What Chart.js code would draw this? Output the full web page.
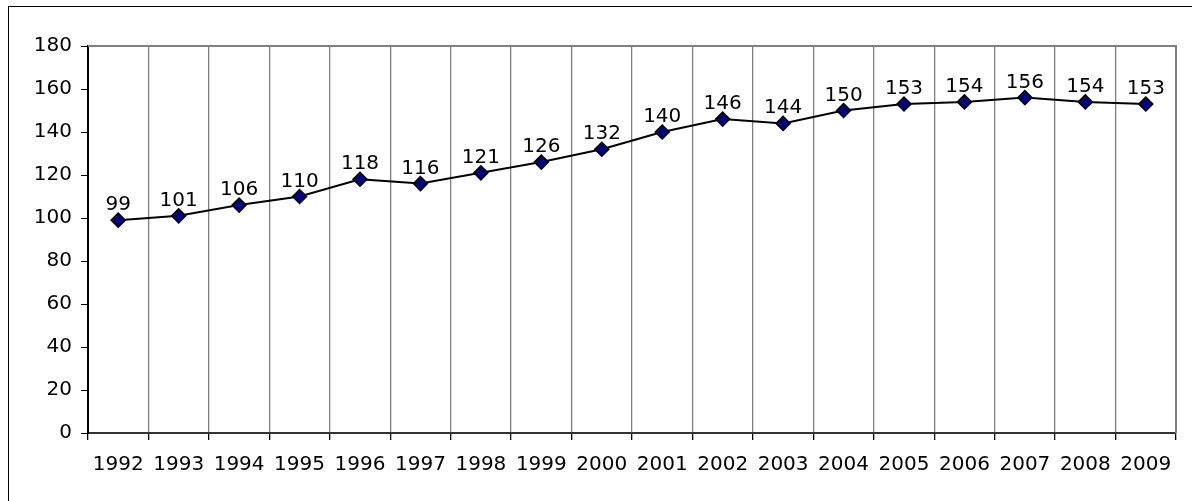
<!DOCTYPE html>
<html>
<head>
<meta charset="utf-8">
<script src="https://cdn.jsdelivr.net/npm/chart.js@4/dist/chart.umd.min.js"></script>
<style>
  body { margin: 0; background: #fff; overflow: hidden; }
  #wrap { position: relative; width: 1192px; height: 501px; }
  #frame { position: absolute; left: 8px; top: 6px; width: 1200px; height: 520px; border: 1px solid #000; }
  canvas { position: absolute; left: 0; top: 0; }
</style>
</head>
<body>
<div id="wrap">
  <div id="frame"></div>
  <canvas id="chart" width="1192" height="501"></canvas>
</div>
<script>
const years = ['1992', '1993', '1994', '1995', '1996', '1997', '1998', '1999', '2000',
               '2001', '2002', '2003', '2004', '2005', '2006', '2007', '2008', '2009'];
const values = [99, 101, 106, 110, 118, 116, 121, 126, 132, 140, 146, 144, 150, 153, 154, 156, 154, 153];
const yTicks = [0, 20, 40, 60, 80, 100, 120, 140, 160, 180];

const font = { family: 'DejaVu Sans', size: 20 };

// gray box around plot area
const plotBox = {
    id: 'plotBox',
    beforeDatasetsDraw(chart) {
        const a = chart.chartArea;
        const c = chart.ctx;
        c.save();
        c.strokeStyle = '#808080';
        c.lineWidth = 2;
        c.beginPath();
        c.moveTo(a.left, a.top);
        c.lineTo(a.right, a.top);
        c.lineTo(a.right, a.bottom);
        c.stroke();
        c.restore();
    }
};

// value labels above each point
const valueLabels = {
    id: 'valueLabels',
    afterDatasetsDraw(chart) {
        const c = chart.ctx;
        const meta = chart.getDatasetMeta(0);
        c.save();
        c.font = '20px "DejaVu Sans"';
        c.fillStyle = '#000';
        c.textAlign = 'center';
        c.textBaseline = 'alphabetic';
        meta.data.forEach((pt, i) => {
            c.fillText(String(values[i]), pt.x, pt.y - 10);
        });
        c.restore();
    }
};

let ctx = document.getElementById('chart').getContext('2d');
let ch = new Chart(ctx, {
    type: 'line',
    data: {
        labels: years,
        datasets: [{
            data: values,
            borderColor: '#000',
            borderWidth: 2,
            tension: 0,
            pointStyle: 'rectRot',
            pointRadius: 7,
            pointBackgroundColor: '#000080',
            pointBorderColor: '#000',
            pointBorderWidth: 1.5
        }]
    },
    options: {
        responsive: false,
        animation: false,
        layout: { padding: { left: 8, top: 46, right: 16, bottom: 0 } },
        plugins: { legend: { display: false }, tooltip: { enabled: false } },
        scales: {
            x: {
                offset: true,
                grid: { offset: true, color: '#808080', lineWidth: 1.3, tickLength: 7, tickColor: '#000' },
                border: { color: '#333', width: 2 },
                ticks: { color: '#000', font: font, padding: 13, maxRotation: 0, autoSkip: false },
                afterFit(s) { s.height = 68; }
            },
            y: {
                min: 0,
                max: 180,
                afterBuildTicks(s) { s.ticks = yTicks.map(v => ({ value: v })); },
                grid: { drawOnChartArea: false, tickLength: 7, color: '#000' },
                border: { color: '#000', width: 2 },
                ticks: { color: '#000', font: font, padding: 9 },
                afterFit(s) { s.width = 80; }
            }
        }
    },
    plugins: [plotBox, valueLabels]
});
</script>
</body>
</html>
